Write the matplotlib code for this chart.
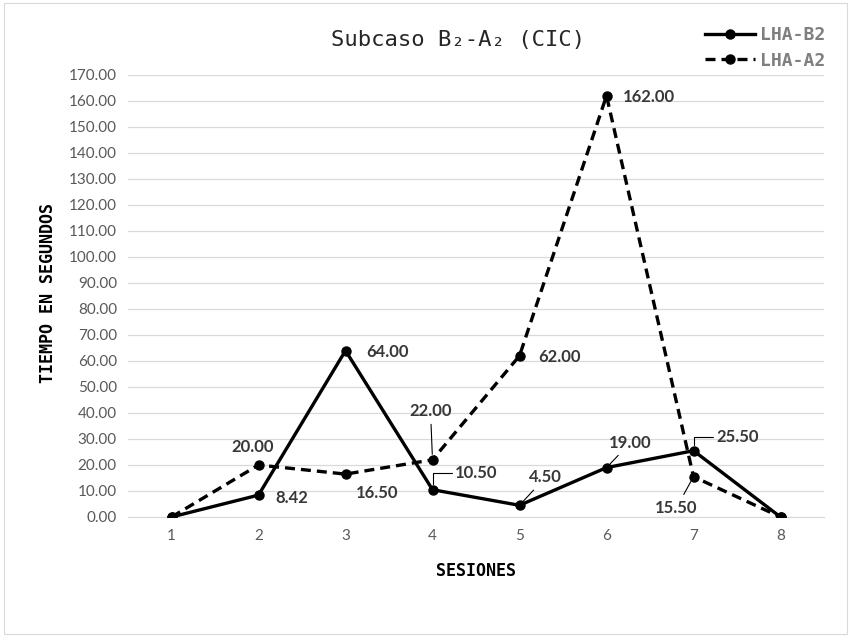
import matplotlib.pyplot as plt
from matplotlib.patches import Rectangle

# datos
sesiones = [1, 2, 3, 4, 5, 6, 7, 8]
lha_b2 = [0, 8.42, 64.00, 10.50, 4.50, 19.00, 25.50, 0]
lha_a2 = [0, 20.00, 16.50, 22.00, 62.00, 162.00, 15.50, 0]
y_ticks = list(range(0, 171, 10))

# etiquetas de datos: indice -> (desplazamiento en px, conector)
etiq_b2 = {1: (33, -3, None), 2: (42, -1, None), 3: (44, 17, 'angle'),
           4: (26, 28, 'line'), 5: (24, 25, 'line'), 6: (44, 14, 'angle')}
etiq_a2 = {1: (-6, 18, None), 2: (32, -19, None), 3: (-2, 49, 'line'),
           4: (40, -1, None), 5: (42, -1, None), 6: (-17, -31, 'line')}

plt.rcParams['font.family'] = ['Lato', 'DejaVu Sans']
mono = 'DejaVu Sans Mono'

fig = plt.figure(figsize=(8.51, 6.37), dpi=100)
# marco gris del grafico
fig.patches.append(Rectangle((0.005, 0.004), 0.99, 0.992, transform=fig.transFigure,
                             fill=False, edgecolor='#d9d9d9', linewidth=0.8))
ax = fig.add_axes([128 / 851, 1 - 517 / 637, 696 / 851, 442 / 637])

ax.plot(sesiones, lha_b2, color='black', linewidth=2.4, marker='o',
        markersize=6.5, label='LHA-B2', zorder=3)
ax.plot(sesiones, lha_a2, color='black', linewidth=2.4, marker='o',
        markersize=6.5, dashes=(3, 1.8), label='LHA-A2', zorder=3)


def etiquetar(serie, etiquetas):
    for i, (dx, dy, con) in etiquetas.items():
        props = None
        if con == 'line':
            props = dict(arrowstyle='-', color='black', linewidth=0.8,
                         shrinkA=2, shrinkB=4)
        elif con == 'angle':
            props = dict(arrowstyle='-', color='black', linewidth=0.8,
                         shrinkA=0, shrinkB=4,
                         connectionstyle='angle,angleA=0,angleB=90,rad=0')
        ax.annotate(f'{serie[i]:.2f}', (sesiones[i], serie[i]),
                    xytext=(dx, dy), textcoords='offset pixels',
                    ha='center', va='center', fontsize=12, fontweight='bold',
                    color='#383838', arrowprops=props, zorder=4)


etiquetar(lha_b2, etiq_b2)
etiquetar(lha_a2, etiq_a2)

ax.set_xlim(0.5, 8.5)
ax.set_ylim(0, 170)
ax.set_xticks(sesiones)
ax.set_yticks(y_ticks)
ax.set_yticklabels([f'{v:.2f}' for v in y_ticks])
ax.tick_params(length=0, labelsize=11, labelcolor='#595959', pad=8)
ax.tick_params(axis='x', pad=9)
ax.grid(axis='y', color='#d9d9d9', linewidth=0.9)
ax.set_axisbelow(True)
for s in ['top', 'right', 'left']:
    ax.spines[s].set_visible(False)
ax.spines['bottom'].set_color('#d9d9d9')

ax.set_xlabel('SESIONES', family=mono, fontweight='bold', fontsize=12,
              color='black', labelpad=13)
ax.set_ylabel('TIEMPO EN SEGUNDOS', family=mono, fontweight='bold',
              fontsize=12, color='black')
ax.yaxis.set_label_coords(-0.102, (517 - 293) / 442)

fig.text(458 / 851, 1 - 40 / 637, 'Subcaso B₂-A₂ (CIC)', family=mono,
         fontsize=16, ha='center', va='center', color='#262626')

fig.legend(loc='upper right', bbox_to_anchor=(834 / 851, 1 - 17 / 637),
           frameon=False, prop={'family': mono, 'weight': 'bold', 'size': 13},
           labelcolor='#7f7f7f', handlelength=2.8, handletextpad=0.25,
           labelspacing=0.42, borderpad=0)

plt.savefig('out.png', dpi=100)
